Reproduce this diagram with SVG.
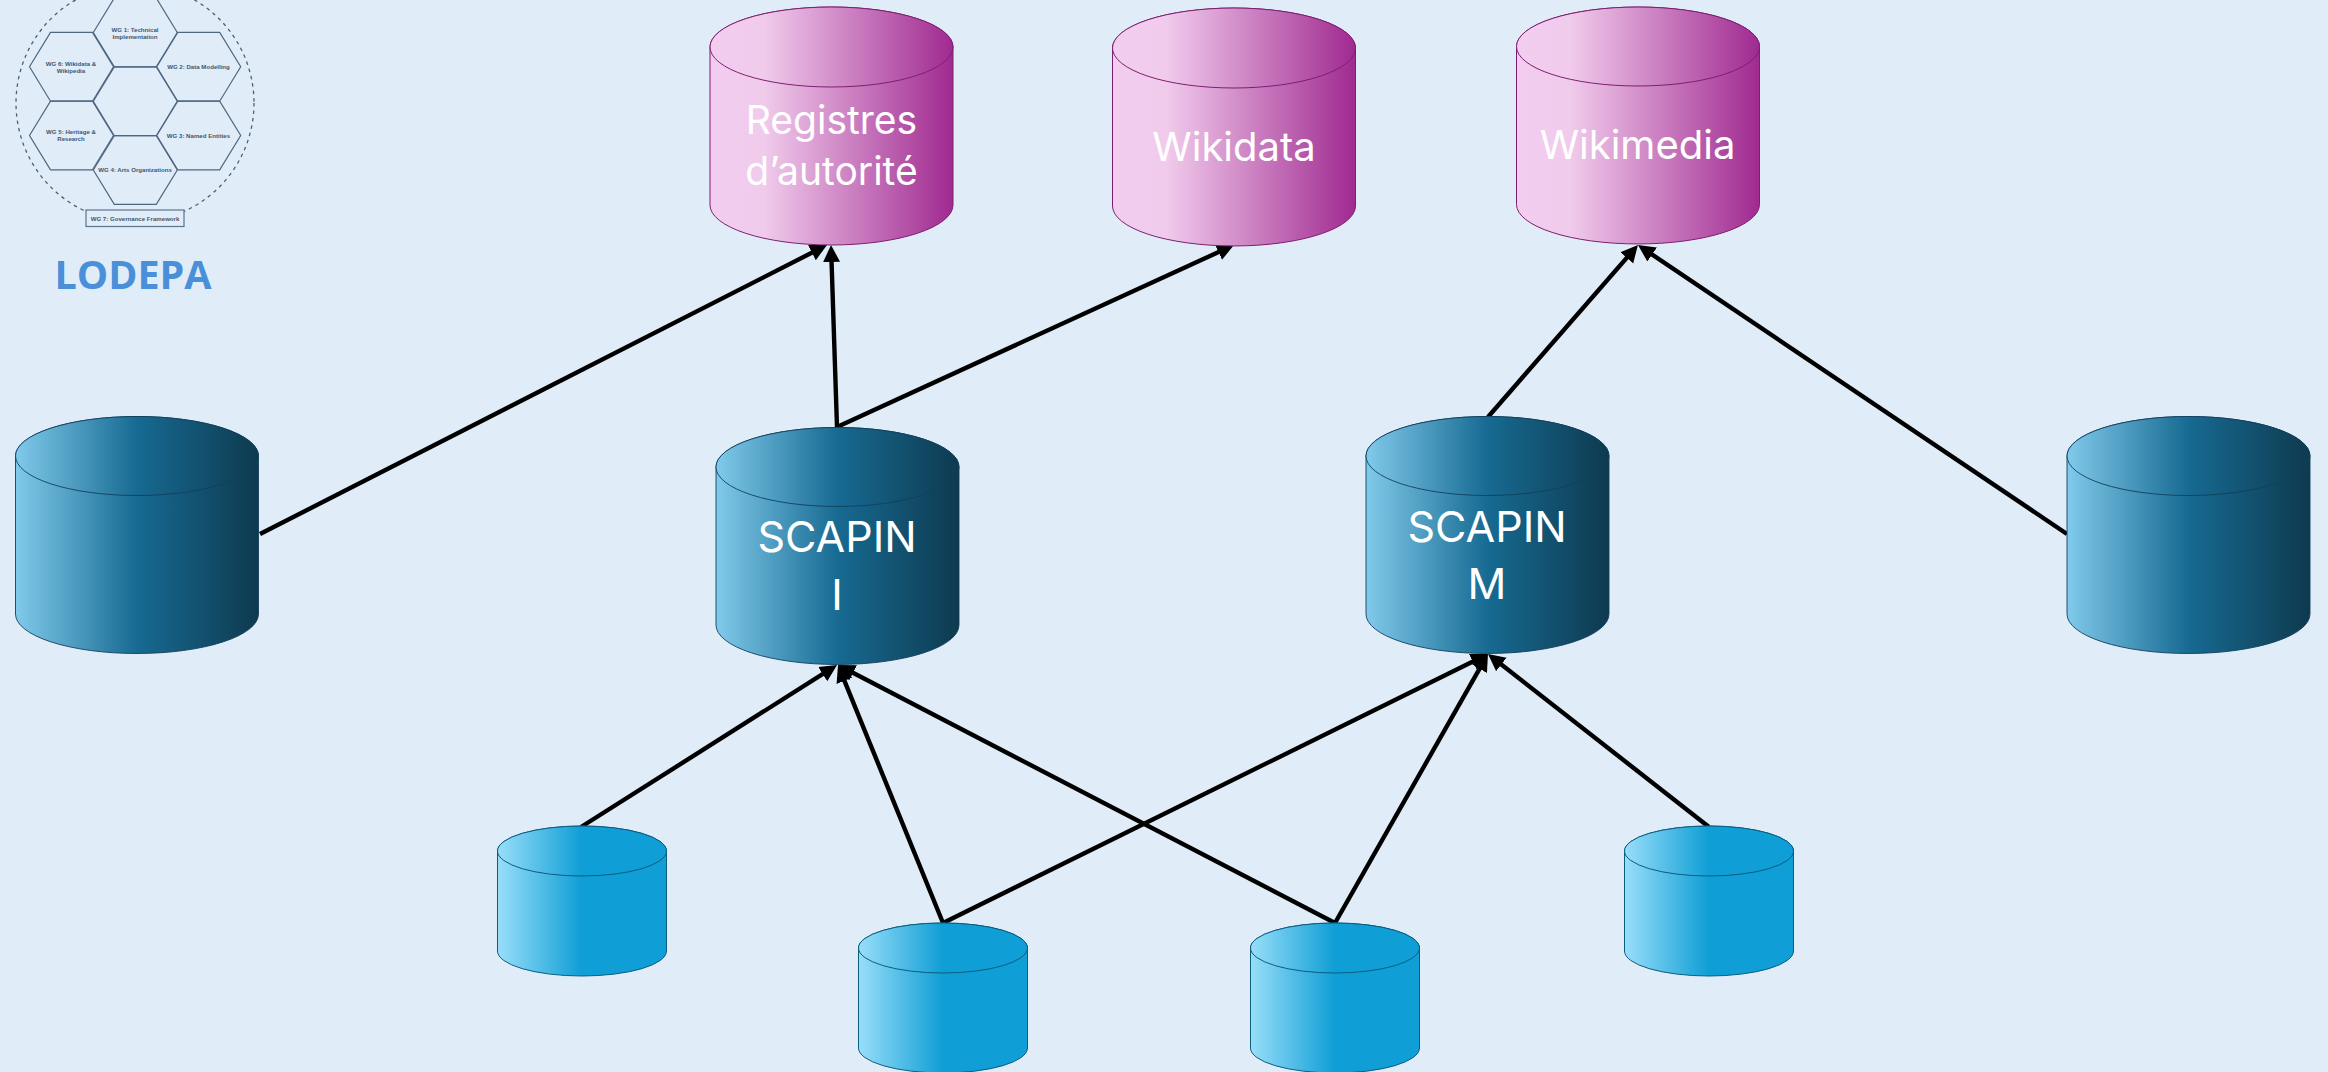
<svg xmlns="http://www.w3.org/2000/svg" width="2328" height="1072" viewBox="0 0 2328 1072">
<style>
.mag{fill:url(#gMag);stroke:#7d1f70;stroke-width:1}
.dark{fill:url(#gDark);stroke:#123f5c;stroke-width:.9}
.small{fill:url(#gSmall);stroke:#0b5d80;stroke-width:1}
.lbl{font-family:Inter,"Noto Sans",sans-serif;font-weight:400;fill:#fff;text-anchor:middle}
.big{font-size:39px}
.wide{font-size:40px}
.scap{font-size:43px}
.wg{font-family:"Liberation Sans",Arial,sans-serif;font-size:6.1px;font-weight:bold;fill:#3f5670;text-anchor:middle}
.hex{fill:none;stroke:#4f6782;stroke-width:1.2}
.conn line{stroke:#000;stroke-width:4.4;marker-end:url(#arr)}
</style>
<defs>
<linearGradient id="gMag" x1="0" x2="1" y1="0" y2="0"><stop offset="0" stop-color="#f2cdf0"/><stop offset=".22" stop-color="#f1cbec"/><stop offset="1" stop-color="#a02a90"/></linearGradient>
<linearGradient id="gDark" x1="0" x2="1" y1="0" y2="0"><stop offset="0" stop-color="#80caeb"/><stop offset=".5" stop-color="#176a92"/><stop offset="1" stop-color="#0e3a4f"/></linearGradient>
<linearGradient id="gSmall" x1="0" x2="1" y1="0" y2="0"><stop offset="0" stop-color="#98def9"/><stop offset=".5" stop-color="#0f9ed5"/><stop offset="1" stop-color="#0f9ed5"/></linearGradient>
<marker id="arr" markerUnits="userSpaceOnUse" markerWidth="19" markerHeight="19" refX="11" refY="9" orient="auto"><path d="M0,0.5L17,9L0,17.5Z" fill="#000"/></marker>
<polygon id="h" points="-42,0 -21,-34.4 21,-34.4 42,0 21,34.4 -21,34.4" class="hex"/>
</defs>
<rect width="2328" height="1072" fill="#e0edf9"/>
<g id="logo">
<circle cx="135" cy="103" r="119" fill="none" stroke="#4d6075" stroke-width="1.3" stroke-dasharray="3.5 4"/>
<use href="#h" x="135.3" y="32.5"/><use href="#h" x="135.3" y="101.3"/><use href="#h" x="135.3" y="170"/>
<use href="#h" x="71.5" y="66.8"/><use href="#h" x="71.5" y="135.5"/><use href="#h" x="198.7" y="66.8"/><use href="#h" x="198.7" y="135.5"/>
<text class="wg" x="135" y="31.5">WG 1: Technical</text><text class="wg" x="135" y="38.5">Implementation</text>
<text class="wg" x="198.5" y="69">WG 2: Data Modelling</text>
<text class="wg" x="198.5" y="137.5">WG 3: Named Entities</text>
<text class="wg" x="135" y="172">WG 4: Arts Organizations</text>
<text class="wg" x="71" y="134">WG 5: Heritage &amp;</text><text class="wg" x="71" y="141">Research</text>
<text class="wg" x="71" y="65.5">WG 6: Wikidata &amp;</text><text class="wg" x="71" y="72.5">Wikipedia</text>
<rect x="86" y="210" width="98" height="16.5" fill="#e0edf9" stroke="#5b728c" stroke-width="1.2"/>
<text class="wg" x="135" y="220.5">WG 7: Governance Framework</text>
<text x="133" y="289" font-family="'Open Sans','Noto Sans',sans-serif" font-size="39.5" font-weight="700" fill="#4a90d9" text-anchor="middle">LODEPA</text>
</g>
<g id="connectors" class="conn">
<line x1="260" y1="534" x2="821.7" y2="247.7"/>
<line x1="837" y1="427" x2="831.2" y2="251"/>
<line x1="837" y1="427" x2="1228.5" y2="247.5"/>
<line x1="1488" y1="417" x2="1634" y2="249.5"/>
<line x1="2067" y1="534" x2="1643" y2="248.4"/>
<line x1="581" y1="827" x2="832" y2="668.2"/>
<line x1="943" y1="923" x2="840.3" y2="670.6"/>
<line x1="1335" y1="923" x2="843.3" y2="667.8"/>
<line x1="943" y1="923" x2="1482.6" y2="656.7"/>
<line x1="1335" y1="923" x2="1485" y2="659.2"/>
<line x1="1709" y1="827" x2="1492.7" y2="657.7"/>
</g>
<g id="registres"><path class="mag" d="M710,47A121.5,40 0 0 1 953,47V205A121.5,40 0 0 1 710,205Z"/><ellipse class="mag" cx="831.5" cy="47" rx="121.5" ry="40"/><text class="lbl big" x="831.5" y="134">Registres</text><text class="lbl big" x="831.5" y="185">d’autorité</text></g>
<g id="wikidata"><path class="mag" d="M1112.500,48A121.5,40 0 0 1 1355.500,48V206A121.5,40 0 0 1 1112.500,206Z"/><ellipse class="mag" cx="1234" cy="48" rx="121.5" ry="40"/><text class="lbl wide" x="1234" y="161">Wikidata</text></g>
<g id="wikimedia"><path class="mag" d="M1516.500,46.500A121.500,39.500 0 0 1 1759.500,46.500V204.500A121.500,39.500 0 0 1 1516.500,204.500Z"/><ellipse class="mag" cx="1638" cy="46.500" rx="121.500" ry="39.500"/><text class="lbl wide" x="1637.500" y="159">Wikimedia</text></g>
<g id="source-left"><path class="dark" d="M15.500,456A121.500,39.500 0 0 1 258.500,456V614A121.500,39.500 0 0 1 15.500,614Z"/><ellipse class="dark" cx="137" cy="456" rx="121.500" ry="39.500"/></g>
<g id="scapin-i"><path class="dark" d="M716,467A121.500,39.500 0 0 1 959,467V625A121.500,39.500 0 0 1 716,625Z"/><ellipse class="dark" cx="837.500" cy="467" rx="121.500" ry="39.500"/><text class="lbl scap" x="837" y="552">SCAPIN</text><text class="lbl scap" x="837" y="610">I</text></g>
<g id="scapin-m"><path class="dark" d="M1366,456A121.500,39.500 0 0 1 1609,456V614A121.500,39.500 0 0 1 1366,614Z"/><ellipse class="dark" cx="1487.500" cy="456" rx="121.500" ry="39.500"/><text class="lbl scap" x="1487" y="542">SCAPIN</text><text class="lbl scap" x="1487" y="599">M</text></g>
<g id="source-right"><path class="dark" d="M2067,456A121.500,39.500 0 0 1 2310,456V614A121.500,39.500 0 0 1 2067,614Z"/><ellipse class="dark" cx="2188.500" cy="456" rx="121.500" ry="39.500"/></g>
<g id="small-1"><path class="small" d="M497.500,851A84.500,25 0 0 1 666.500,851V951A84.500,25 0 0 1 497.500,951Z"/><ellipse class="small" cx="582" cy="851" rx="84.500" ry="25"/></g>
<g id="small-2"><path class="small" d="M858.500,948A84.500,25 0 0 1 1027.500,948V1048A84.500,25 0 0 1 858.500,1048Z"/><ellipse class="small" cx="943" cy="948" rx="84.500" ry="25"/></g>
<g id="small-3"><path class="small" d="M1250.500,948A84.500,25 0 0 1 1419.500,948V1048A84.500,25 0 0 1 1250.500,1048Z"/><ellipse class="small" cx="1335" cy="948" rx="84.500" ry="25"/></g>
<g id="small-4"><path class="small" d="M1624.500,851A84.500,25 0 0 1 1793.500,851V951A84.500,25 0 0 1 1624.500,951Z"/><ellipse class="small" cx="1709" cy="851" rx="84.500" ry="25"/></g>
</svg>
